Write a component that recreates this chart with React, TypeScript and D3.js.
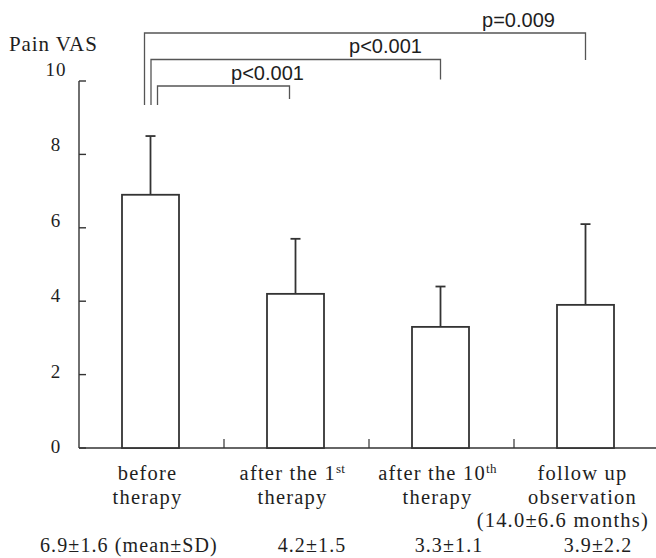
import React from 'react';
import * as d3 from 'd3';

// pain VAS, mean and SD per time point
const categories = ['before', 'after1', 'after10', 'followup'];
const means = [6.9, 4.2, 3.3, 3.9];
const sds = [1.6, 1.5, 1.1, 2.2];
const yTicks = [0, 2, 4, 6, 8, 10];

// category label lines: [text, superscript]
const categoryLines = [
  [['before', ''], ['therapy', '']],
  [['after the 1', 'st'], ['therapy', '']],
  [['after the 10', 'th'], ['therapy', '']],
  [['follow up', ''], ['observation', '']],
];
const followUpNote = '(14.0\u00b16.6 months)';

// significance brackets, all against "before"
const compFrom = [0, 0, 0];
const compTo = [1, 2, 3];
const compLabels = ['p<0.001', 'p<0.001', 'p=0.009'];

const W = 656;
const H = 558;
const serif = "'Liberation Serif', 'DejaVu Serif', Tinos, 'Times New Roman', Times, 'Noto Serif', serif";
const sans = "'Liberation Sans', Arial, sans-serif";
const ink = '#1e1e1e';

const serifStyle = { fontFamily: serif };

const App = () => {
  const x = d3.scaleBand<string>().domain(categories).range([79, 659]);
  const y = d3.scaleLinear().domain([0, 10]).range([448, 81]);
  // tick labels sit on a slightly wider spacing than the ticks
  const yLab = d3.scaleLinear().domain([0, 10]).range([453, 76]);

  const barW = 57;
  const bw = x.bandwidth();
  const barX = (c: string) => (x(c) as number) + (bw - barW) / 2 - 1;
  const barC = (i: number) => barX(categories[i]) + barW / 2;

  const rightDx = [-6, 0, 0];
  const labelDx = [-22, -55, -67];
  const valueX = [40, 312, 449, 598];

  return (
    <svg width={W} height={H} style={{ position: 'absolute', left: 0, top: 0, background: '#fff' }}>
      {/* y axis */}
      <line x1={79} x2={79} y1={y(10)} y2={y(0)} stroke="#333" strokeWidth={1.4} />
      {yTicks.map((t) => (
        <g key={t}>
          <line x1={79} x2={86} y1={y(t)} y2={y(t)} stroke="#333" strokeWidth={1.4} />
          <text x={56} y={yLab(t)} textAnchor="middle" style={serifStyle} fontSize={19} letterSpacing={1} fill={ink}>
            {t}
          </text>
        </g>
      ))}
      <text x={9} y={51} style={serifStyle} fontSize={21} letterSpacing={0.9} fill={ink}>Pain VAS</text>

      {/* x axis */}
      <line x1={79} x2={x.range()[1]} y1={y(0)} y2={y(0)} stroke="#333" strokeWidth={1.4} />
      {categories.slice(1).map((c) => (
        <line key={c} x1={x(c)} x2={x(c)} y1={y(0)} y2={y(0) - 9} stroke="#333" strokeWidth={1.2} />
      ))}

      {/* bars + error bars */}
      {categories.map((c, i) => {
        const cx = barX(c) + barW / 2;
        return (
          <g key={c}>
            <rect
              x={barX(c)}
              y={y(means[i])}
              width={barW}
              height={y(0) - y(means[i])}
              fill="#fff"
              stroke="#333"
              strokeWidth={1.8}
            />
            <line x1={cx} x2={cx} y1={y(means[i])} y2={y(means[i] + sds[i])} stroke="#333" strokeWidth={1.8} />
            <line x1={cx - 5} x2={cx + 5} y1={y(means[i] + sds[i])} y2={y(means[i] + sds[i])} stroke="#333" strokeWidth={1.8} />
          </g>
        );
      })}

      {/* brackets */}
      {compTo.map((to, i) => {
        const left = barC(compFrom[i]) + 7 - 6.5 * i;
        const right = barC(to) + rightDx[i];
        const top = 86 - 26.5 * i;
        const bottom = top + 13 + 7 * i;
        return (
          <g key={i}>
            <path
              d={`M${left},105 V${top} H${right} V${bottom}`}
              fill="none"
              stroke="#555"
              strokeWidth={1.3}
            />
            <text x={right + labelDx[i]} y={top - 6.5} textAnchor="middle" style={{ fontFamily: sans }} fontSize={20} fill={ink}>
              {compLabels[i]}
            </text>
          </g>
        );
      })}

      {/* category labels */}
      {categories.map((c, i) => {
        const cx = (x(c) as number) + bw / 2 - 4;
        return categoryLines[i].map(([txt, sup], j) => (
          <text
            key={c + j}
            x={cx}
            y={479.5 + j * 24}
            textAnchor="middle"
            style={serifStyle}
            fontSize={20.5}
            letterSpacing={1.2}
            fill={ink}
          >
            {txt}
            {sup ? <tspan fontSize={13} letterSpacing={0.4} dy={-7}>{sup}</tspan> : null}
          </text>
        ));
      })}
      <text x={649} y={527} textAnchor="end" style={serifStyle} fontSize={20.5} letterSpacing={1.2} fill={ink}>
        {followUpNote}
      </text>

      {/* mean ± SD row */}
      {categories.map((c, i) => (
        <text
          key={c}
          x={valueX[i]}
          y={551.5}
          textAnchor={i === 0 ? 'start' : 'middle'}
          style={serifStyle}
          fontSize={20}
          letterSpacing={1.1}
          fill={ink}
        >
          {`${means[i].toFixed(1)}\u00b1${sds[i].toFixed(1)}`}
          {i === 0 ? ' (mean\u00b1SD)' : ''}
        </text>
      ))}
    </svg>
  );
};

export default App;
